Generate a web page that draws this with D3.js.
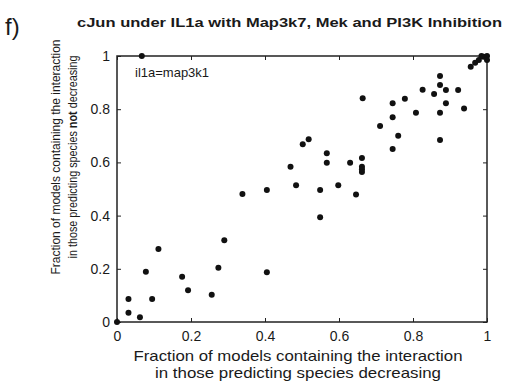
<!DOCTYPE html>
<html lang="en">
<head>
<meta charset="utf-8">
<title>cJun under IL1a</title>
<script src="https://cdn.jsdelivr.net/npm/d3@7/dist/d3.min.js"></script>
<style>
  body { margin: 0; background: #fff; }
  text { font-family: "Liberation Sans", Arial, sans-serif; fill: #1a1a1a; }
</style>
</head>
<body>
<script>
// fraction in models predicting decrease (x) vs not decreasing (y)
var xVals = [0, 0.067, 0.031, 0.031, 0.062, 0.078, 0.095, 0.112, 0.176, 0.192,
  0.256, 0.274, 0.290, 0.339, 0.405, 0.405, 0.469, 0.484, 0.502, 0.518,
  0.549, 0.549, 0.567, 0.567, 0.598, 0.630, 0.646, 0.662, 0.662, 0.662,
  0.662, 0.664, 0.711, 0.745, 0.745, 0.745, 0.760, 0.778, 0.808, 0.826,
  0.857, 0.873, 0.873, 0.873, 0.873, 0.889, 0.889, 0.922, 0.938, 0.956,
  0.968, 0.978, 0.990, 1.0, 1.0, 0.985];
var yVals = [0, 1.0, 0.086, 0.035, 0.018, 0.189, 0.086, 0.274, 0.170, 0.119,
  0.102, 0.204, 0.307, 0.481, 0.496, 0.187, 0.584, 0.514, 0.668, 0.687,
  0.496, 0.394, 0.634, 0.599, 0.514, 0.599, 0.479, 0.617, 0.584, 0.574,
  0.564, 0.841, 0.737, 0.822, 0.770, 0.650, 0.700, 0.839, 0.787, 0.873,
  0.857, 0.925, 0.891, 0.787, 0.684, 0.872, 0.822, 0.872, 0.803, 0.960,
  0.975, 0.985, 0.997, 1.0, 0.985, 1.0];
var tickVals = [0, 0.2, 0.4, 0.6, 0.8, 1];
var tickLabels = ["0", "0.2", "0.4", "0.6", "0.8", "1"];

var W = 507, H = 392;
var pLeft = 117, pRight = 487, pTop = 56, pBottom = 322;

var svg = d3.select("body").append("svg")
  .attr("width", W).attr("height", H);

var x = d3.scaleLinear().domain([0, 1]).range([pLeft, pRight]);
var y = d3.scaleLinear().domain([0, 1]).range([pBottom, pTop]);

var fmt = function(d) { return tickLabels[tickVals.indexOf(d)]; };

// box with inward ticks on every side
function styleAxis(g) {
  g.select(".domain").remove();
  g.selectAll(".tick line").attr("stroke", "#222").attr("stroke-width", 1);
  g.selectAll(".tick text").style("font-size", "14px")
    .style("font-family", "'Liberation Sans', Arial, sans-serif").attr("fill", "#1a1a1a");
}

svg.append("g").attr("transform", "translate(0," + pBottom + ")")
  .call(d3.axisBottom(x).tickValues(tickVals).tickFormat(fmt).tickSize(-4).tickPadding(9))
  .call(styleAxis);
svg.append("g").attr("transform", "translate(0," + pTop + ")")
  .call(d3.axisTop(x).tickValues(tickVals).tickFormat("").tickSize(-4))
  .call(styleAxis);
svg.append("g").attr("transform", "translate(" + pLeft + ",0)")
  .call(d3.axisLeft(y).tickValues(tickVals).tickFormat(fmt).tickSize(-4).tickPadding(7))
  .call(styleAxis);
svg.append("g").attr("transform", "translate(" + pRight + ",0)")
  .call(d3.axisRight(y).tickValues(tickVals).tickFormat("").tickSize(-4))
  .call(styleAxis);

svg.append("rect")
  .attr("x", pLeft).attr("y", pTop)
  .attr("width", pRight - pLeft).attr("height", pBottom - pTop)
  .attr("fill", "none").attr("stroke", "#222").attr("stroke-width", 1.5);

svg.selectAll("circle.pt")
  .data(xVals)
  .enter()
  .append("circle")
  .attr("class", "pt")
  .attr("cx", function(d) { return x(d); })
  .attr("cy", function(d, i) { return y(yVals[i]); })
  .attr("r", 3)
  .attr("fill", "#111");

svg.append("text").attr("x", 135).attr("y", 77)
  .style("font-size", "13px").text("il1a=map3k1");

// titles
svg.append("text").attr("x", 5).attr("y", 35)
  .style("font-size", "24px").text("f)");
svg.append("text").attr("x", 77).attr("y", 27)
  .style("font-size", "13px").style("font-weight", "bold")
  .attr("textLength", 425).attr("lengthAdjust", "spacingAndGlyphs")
  .text("cJun under IL1a with Map3k7, Mek and PI3K Inhibition");

svg.append("text").attr("x", 298).attr("y", 361)
  .attr("text-anchor", "middle").style("font-size", "15px")
  .attr("textLength", 329).attr("lengthAdjust", "spacingAndGlyphs")
  .text("Fraction of models containing the interaction");
svg.append("text").attr("x", 298).attr("y", 378)
  .attr("text-anchor", "middle").style("font-size", "15px")
  .attr("textLength", 286).attr("lengthAdjust", "spacingAndGlyphs")
  .text("in those predicting species decreasing");

var yt = svg.append("g").attr("transform", "translate(0,157) rotate(-90)");
yt.append("text").attr("x", 0).attr("y", 60)
  .attr("text-anchor", "middle").style("font-size", "12px")
  .attr("textLength", 235).attr("lengthAdjust", "spacingAndGlyphs")
  .text("Fraction of models containing the interaction");
var l2 = yt.append("text").attr("x", 0).attr("y", 77)
  .attr("text-anchor", "middle").style("font-size", "12px")
  .attr("textLength", 203).attr("lengthAdjust", "spacingAndGlyphs");
l2.append("tspan").text("in those predicting species ");
l2.append("tspan").style("font-weight", "bold").text("not");
l2.append("tspan").text(" decreasing");
</script>
</body>
</html>
